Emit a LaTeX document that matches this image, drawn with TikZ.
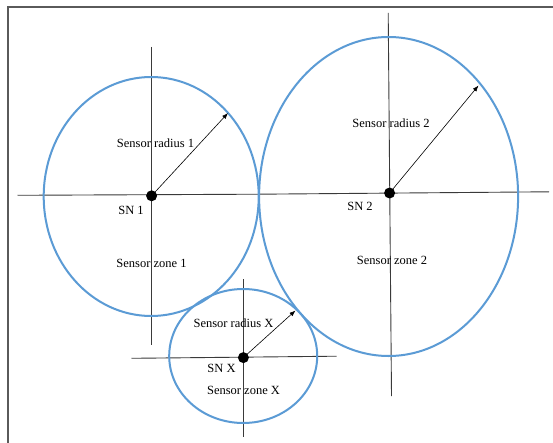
\documentclass[tikz,border=0pt]{standalone}
\usepackage{fontspec}
\setmainfont{Liberation Serif}
\usetikzlibrary{arrows.meta}
\definecolor{zoneblue}{HTML}{5B9BD5}
\definecolor{axisgray}{HTML}{3A3A3A}
\definecolor{framegray}{HTML}{5A5A5A}
\begin{document}
\begin{tikzpicture}[x=1pt,y=-1pt,
  zone/.style={draw=zoneblue,line width=2pt},
  axis/.style={draw=axisgray,line width=0.9pt},
  sensor/.style={circle,fill=black,inner sep=0pt,minimum size=11pt},
  radiusarrow/.style={draw=black,line width=0.6pt,-{Latex[length=6pt,width=4.5pt]}},
  lbl/.style={font=\fontsize{12.5}{14}\selectfont,inner sep=0pt,text=black}]
\useasboundingbox (0,0) rectangle (553,443);
\fill[white] (0,0) rectangle (553,443);
% frame
\draw[framegray,line width=1.8pt] (7.6,443) -- (7.6,6.8) -- (553,6.8);
% axes
\draw[axis] (17.5,195.3) -- (258.5,194.2);
\draw[axis] (258.5,194.2) -- (549,191.8);
\draw[axis] (151.6,47) -- (151.6,345);
\draw[axis] (388.2,13) -- (391.5,396);
\draw[axis] (131.5,358.3) -- (336.5,356.2);
\draw[axis] (243.4,279) -- (243.4,437);
% zones
\draw[zone] (151.2,196.5) ellipse [x radius=107.5pt, y radius=119.5pt];
\draw[zone] (388.6,196.5) ellipse [x radius=129.5pt, y radius=159.5pt];
\draw[zone] (243.2,356) ellipse [x radius=74pt, y radius=67pt];
% sensor nodes
\node[sensor] (sn1) at (151.6,195.8) {};
\node[sensor] (sn2) at (389.6,193) {};
\node[sensor] (snx) at (243.4,357.6) {};
\coordinate (t1) at (228,113);
\coordinate (t2) at (478.5,85.5);
\coordinate (tx) at (295.5,310.5);
\draw[radiusarrow] (sn1.center) -- (t1);
\draw[radiusarrow] (sn2.center) -- (t2);
\draw[radiusarrow] (snx.center) -- (tx);
% labels
\node[lbl] (r1) at (155.5,143) {Sensor radius 1};
\node[lbl] (l1) at (131,210) {SN 1};
\node[lbl] (z1) at (151.5,263) {Sensor zone 1};
\node[lbl] (r2) at (391,123) {Sensor radius 2};
\node[lbl] (l2) at (360,206) {SN 2};
\node[lbl] (z2) at (392,260) {Sensor zone 2};
\node[lbl] (rx) at (233.5,323) {Sensor radius X};
\node[lbl] (lx) at (221.5,368) {SN X};
\node[lbl] (zx) at (243.5,390) {Sensor zone X};
\end{tikzpicture}
\end{document}
